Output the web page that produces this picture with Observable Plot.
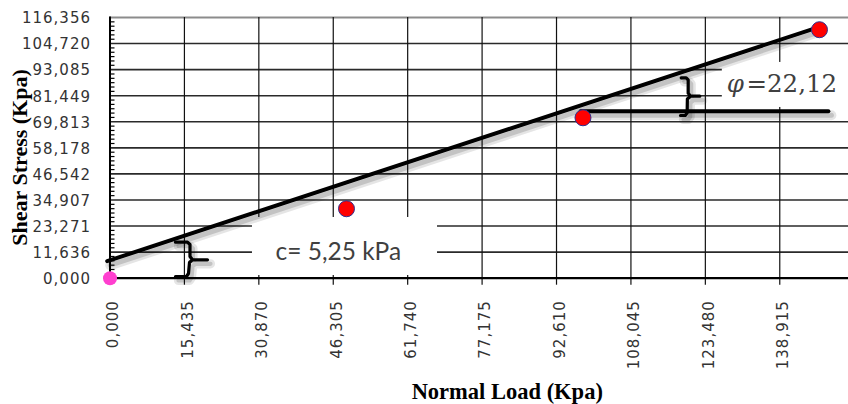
<!DOCTYPE html>
<html>
<head>
<meta charset="utf-8">
<script src="https://cdn.jsdelivr.net/npm/d3@7"></script>
<script src="https://cdn.jsdelivr.net/npm/@observablehq/plot@0.6"></script>
<style>
  html, body { margin: 0; padding: 0; background: #fff; }
  #chart svg { display: block; }
  g[aria-label="y-axis tick label"], g[aria-label="x-axis tick label"] { letter-spacing: 1px; fill: #333; }
  g[aria-label="x title"] text { letter-spacing: 1px; }
  g[aria-label="y title"] text { letter-spacing: 0.9px; }
  g[aria-label="cohesion label"] text { letter-spacing: 1.4px; }
</style>
</head>
<body>
<div id="chart"></div>
<script>
// Direct shear test: shear stress against normal load (kPa)
const normalLoad = [0, 49.05, 98.1, 147.15];
const shearStress = [0, 31.0, 71.6, 110.9];

// Axis tick values
const xTickValues = [0, 15.435, 30.87, 46.305, 61.74, 77.175, 92.61, 108.045, 123.48, 138.915];
const yTickValues = [0, 11.6356, 23.2711, 34.9067, 46.5423, 58.1779, 69.8134, 81.449, 93.0846, 104.7201, 116.3557];

// Failure envelope as drawn over the samples
const envelopeLoad = [-0.58, 145.9];
const envelopeStress = [7.6, 111.3];

// Annotation labels
const cohesionText = "c= 5,25 kPa";
const phiSymbol = "φ";
const phiValue = "=22,12";
const xTitle = "Normal Load (Kpa)";
const yTitle = "Shear Stress (Kpa)";

// Annotation geometry, in data units (kPa)
const cohesionBrace = [
  {x: 13.58, y: 16.07}, {x: 16.07, y: 16.07}, {x: 16.59, y: 15.04}, {x: 16.59, y: 9.69}, {x: 17.11, y: 8.21},
  {x: 20.22, y: 8.21}, {x: 17.11, y: 8.21}, {x: 16.49, y: 7.01}, {x: 16.28, y: 2.10}, {x: 15.87, y: 0.76}, {x: 13.58, y: 0.76}
];
const phiBrace = [
  {x: 118.47, y: 89.45}, {x: 119.5, y: 89.45}, {x: 119.92, y: 88.5}, {x: 119.92, y: 82.6}, {x: 120.4, y: 81.23},
  {x: 122.33, y: 81.23}, {x: 120.4, y: 81.23}, {x: 119.75, y: 80.0}, {x: 119.71, y: 73.8}, {x: 119.3, y: 72.62}, {x: 118.32, y: 72.62}
];
const phiBaseLine = [{x: 97.6, y: 74.54}, {x: 149.0, y: 74.54}];
const labelBoxes = [
  {x1: 29.55, x2: 67.93, y1: 1.2, y2: 27.1},
  {x1: 127.0, x2: 156.0, y1: 76.2, y2: 96.3}
];
const cohesionAnchor = {load: 34.33, stress: 11.78};
const phiAnchor = {load: 127.9, stress: 86.45};
const phiValueAnchor = {load: 132.0, stress: 86.45};

const samples = normalLoad.map((load, i) => ({load, stress: shearStress[i]}));
const envelope = envelopeLoad.map((load, i) => ({x: load, y: envelopeStress[i]}));
const fmt = d => d.toFixed(3).replace(".", ",");

// minor ticks: five between each pair of labelled stress ticks
const yMax = yTickValues[yTickValues.length - 1];
const yStep = yTickValues[1] - yTickValues[0];
const yMinor = d3.range(1, 60).filter(i => i % 6 !== 0).map(i => i * yStep / 6).filter(v => v < yMax);

// a stroke path plus a soft offset shadow beneath it
function shadowed(data, width) {
  return [
    Plot.line(data, {x: "x", y: "y", stroke: "#000", strokeOpacity: 0.1, strokeWidth: width + 6, dx: 3, dy: 4, strokeLinejoin: "round"}),
    Plot.line(data, {x: "x", y: "y", stroke: "#000", strokeOpacity: 0.15, strokeWidth: width + 1, dx: 3, dy: 4, strokeLinejoin: "round"}),
    Plot.line(data, {x: "x", y: "y", stroke: "#000", strokeWidth: width, strokeLinejoin: "round"})
  ];
}

const W = 848, H = 404;
const chart = Plot.plot({
  width: W,
  height: H,
  marginLeft: 109.5,
  marginRight: 0,
  marginTop: 17,
  marginBottom: H - 277.7,
  style: {background: "#fff", overflow: "hidden"},
  x: {domain: [0, 153.17]},
  y: {domain: [0, yMax]},
  marks: [
    // grid
    Plot.ruleY(yTickValues.slice(1, -1), {stroke: "#2a2a2a", strokeWidth: 1.6}),
    Plot.ruleY([yMax], {stroke: "#8c8c8c", strokeWidth: 2}),
    Plot.ruleX(xTickValues.slice(1), {y1: 0, y2: yMax, stroke: "#111", strokeWidth: 1.2}),
    // white panels behind the annotation labels
    Plot.rect(labelBoxes, {x1: "x1", x2: "x2", y1: "y1", y2: "y2", fill: "#fff"}),
    // axes: tick marks, then the rotated load labels set slightly right of each tick
    Plot.axisX(xTickValues, {tickSize: 7, tickFormat: () => "", stroke: "#111", strokeWidth: 1.2, label: null}),
    Plot.axisX(xTickValues, {
      tickSize: 0, tickPadding: 22, tickRotate: -90, tickFormat: fmt, dx: 3.5,
      fontSize: 15, fontFamily: "DejaVu Sans", label: null
    }),
    Plot.axisY(yTickValues, {
      tickSize: 0, tickPadding: 19, tickFormat: fmt, dy: 1,
      fontSize: 15, fontFamily: "DejaVu Sans", label: null
    }),
    // minor ticks on the stress axis, pointing into the frame
    Plot.axisY(yMinor, {tickSize: 5, dx: 5, tickFormat: () => "", stroke: "#000", strokeWidth: 1.2, label: null}),
    Plot.frame({anchor: "bottom", stroke: "#000", strokeWidth: 2.2}),
    Plot.frame({anchor: "left", stroke: "#000", strokeWidth: 2}),
    // failure envelope and angle/cohesion marks
    ...shadowed(envelope, 4),
    ...shadowed(phiBaseLine, 4),
    ...shadowed(cohesionBrace, 3.2),
    ...shadowed(phiBrace, 3.2),
    // samples
    Plot.dot(samples.slice(0, 1), {x: "load", y: "stress", r: 7, fill: "#ff3fcf", stroke: "none"}),
    Plot.dot(samples.slice(1), {x: "load", y: "stress", r: 8, fill: "#ff0000", stroke: "#2e3192", strokeWidth: 1}),
    // labels
    Plot.text([cohesionAnchor], {x: "load", y: "stress", text: () => cohesionText, textAnchor: "start",
      fontFamily: "Lato", fontSize: 24.5, fill: "#404040", ariaLabel: "cohesion label"}),
    Plot.text([phiAnchor], {x: "load", y: "stress", text: () => phiSymbol, textAnchor: "start",
      fontFamily: "DejaVu Serif", fontStyle: "italic", fontSize: 24.5, fill: "#404040"}),
    Plot.text([phiValueAnchor], {x: "load", y: "stress", text: () => phiValue, textAnchor: "start",
      fontFamily: "DejaVu Serif", fontSize: 24.5, fill: "#404040"}),
    // axis titles
    Plot.text([yTitle], {text: d => d, frameAnchor: "left", textAnchor: "middle", lineAnchor: "middle",
      rotate: -90, dx: -90.5, dy: 9.6, fontFamily: "Liberation Serif", fontWeight: "bold", fontSize: 22,
      fill: "#000", ariaLabel: "y title"}),
    Plot.text([xTitle], {text: d => d, frameAnchor: "bottom", textAnchor: "middle", lineAnchor: "middle",
      dx: 28, dy: 113.3, fontFamily: "Liberation Serif", fontWeight: "bold", fontSize: 22.5,
      fill: "#000", ariaLabel: "x title"})
  ]
});

document.getElementById("chart").append(chart);
</script>
</body>
</html>
